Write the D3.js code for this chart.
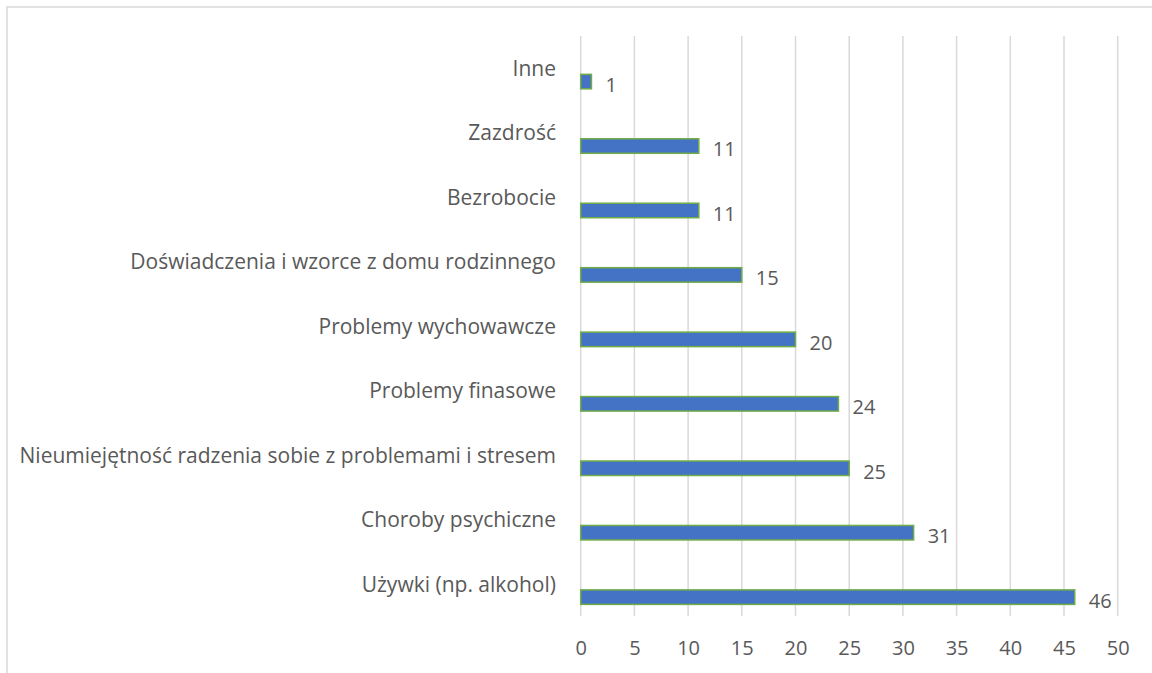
<!DOCTYPE html>
<html>
<head>
<meta charset="utf-8">
<script src="https://cdn.jsdelivr.net/npm/d3@7"></script>
<style>
  html, body { margin: 0; padding: 0; background: #fff; }
  svg text { font-family: "Open Sans", "Noto Sans", sans-serif; fill: #595959; }
</style>
</head>
<body>
<div id="chart"></div>
<script>
// categories top to bottom, as in the picture
var categories = ["Inne", "Zazdrość", "Bezrobocie", "Doświadczenia i wzorce z domu rodzinnego",
    "Problemy wychowawcze", "Problemy finasowe", "Nieumiejętność radzenia sobie z problemami i stresem",
    "Choroby psychiczne", "Używki (np. alkohol)"];
var values = [1, 11, 11, 15, 20, 24, 25, 31, 46];
var tickValues = [0, 5, 10, 15, 20, 25, 30, 35, 40, 45, 50];

var width = 1152, height = 673;
var plotLeft = 580.7, plotRight = 1117.7, plotTop = 36, plotBottom = 616;

var svg = d3.select("#chart").append("svg")
    .attr("width", width)
    .attr("height", height);

// outer chart frame
svg.append("rect")
    .attr("x", 7).attr("y", 7)
    .attr("width", width).attr("height", height)
    .style("fill", "none")
    .style("stroke", "#d9d9d9")
    .style("stroke-width", 1.5);

var x = d3.scaleLinear().domain([0, 50]).range([plotLeft, plotRight]);
var y = d3.scaleBand().domain(categories).range([plotTop, plotBottom]);

// vertical gridlines
svg.selectAll(".grid")
    .data(tickValues)
    .enter()
    .append("line")
    .attr("class", "grid")
    .attr("x1", function (d) { return x(d); })
    .attr("x2", function (d) { return x(d); })
    .attr("y1", plotTop)
    .attr("y2", plotBottom)
    .style("stroke", "#d9d9d9")
    .style("stroke-width", 1.5);

// x axis labels
var xAxis = d3.axisBottom(x).tickValues(tickValues).tickSize(0).tickPadding(0);
var gx = svg.append("g")
    .attr("transform", "translate(0," + (plotBottom + 25) + ")")
    .call(xAxis);
gx.select(".domain").remove();
gx.selectAll("text")
    .style("font-size", "20px")
    .style("fill", "#595959");

// category labels (sit at band centre, right aligned)
var yAxis = d3.axisLeft(y).tickSize(0).tickPadding(0);
var gy = svg.append("g")
    .attr("transform", "translate(556,1)")
    .call(yAxis);
gy.select(".domain").remove();
gy.selectAll("text")
    .style("font-size", "21px")
    .style("fill", "#595959");

// bars sit in the lower part of each band
var bw = y.bandwidth();
var barOff = bw * 0.595, barH = bw * 0.225;

svg.selectAll(".bar")
    .data(values)
    .enter()
    .append("rect")
    .attr("class", "bar")
    .attr("x", x(0))
    .attr("y", function (d, i) { return y(categories[i]) + barOff; })
    .attr("width", function (d) { return x(d) - x(0); })
    .attr("height", barH)
    .style("fill", "#4472c4")
    .style("stroke", "#70ad47")
    .style("stroke-width", 1.5);

// value labels
svg.selectAll(".val")
    .data(values)
    .enter()
    .append("text")
    .attr("class", "val")
    .attr("x", function (d) { return x(d) + 14; })
    .attr("y", function (d, i) { return y(categories[i]) + barOff + barH / 2 + 2; })
    .attr("dy", "0.42em")
    .style("font-size", "20px")
    .text(function (d) { return d; });
</script>
</body>
</html>
